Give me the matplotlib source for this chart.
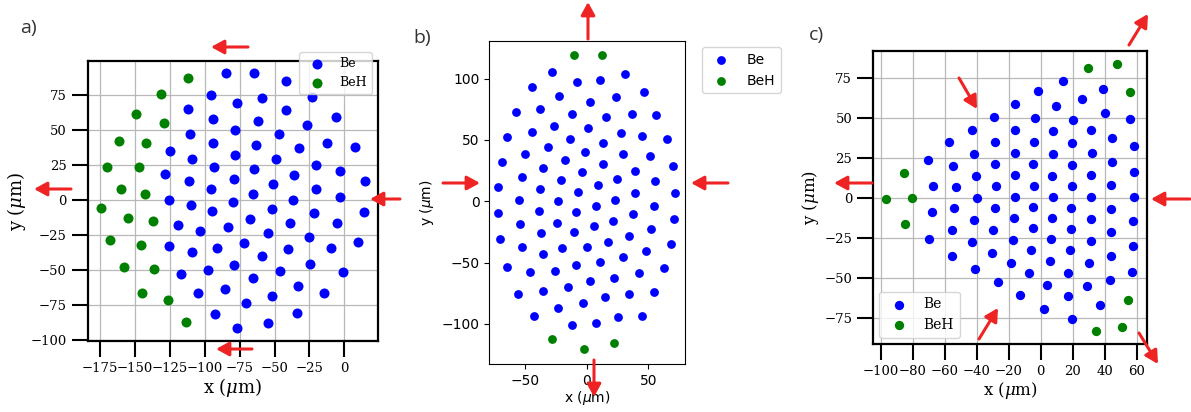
import matplotlib
matplotlib.use("Agg")
import matplotlib.pyplot as plt
from matplotlib.patches import FancyArrowPatch

# ---------------- data: panel a ----------------
a_beh_x = [-112.2, -131.5, -149.4, -129.4, -161.4, -142.0, -170.2, -147.3, -159.7, -142.5,
           -174.3, -154.7, -137.3, -167.6, -145.6, -158.0, -136.1, -145.1, -126.5, -113.2]
a_beh_y = [87.4, 75.7, 61.3, 55.4, 42.5, 40.6, 23.6, 23.6, 7.6, 4.3,
           -5.7, -12.7, -15.3, -28.4, -32.0, -48.0, -49.2, -66.4, -71.9, -87.1]
a_be_x = [-84.7, -64.5, -41.8, -22.9, -95.5, -58.7, -77.1, -111.7, -42.0, -5.7,
          -93.8, -62.1, -26.5, -78.1, -110.5, -46.6, -93.8, -12.2, 7.6, -63.0,
          -124.6, -32.7, -78.3, -108.9, -48.9, -93.6, -20.1, -64.5, -3.1, -128.4,
          -35.8, -79.3, -111.5, 14.8, -50.8, -95.7, -20.1, -65.2, -3.1, -125.3,
          -36.5, -80.0, -109.8, -52.0, 14.1, -94.5, -21.7, -67.6, -5.3, -38.9,
          -119.4, -83.6, -103.1, -54.7, -25.1, 10.0, -72.1, -125.8, -91.0, -40.6,
          -9.8, -109.1, -59.2, -78.8, -24.6, -97.6, -46.3, -1.2, -117.2, -65.4,
          -32.9, -85.2, -14.8, -105.0, -51.6, -70.7, -92.6, -33.7, -54.7, -76.6]
a_be_y = [90.7, 90.7, 85.0, 73.5, 75.2, 73.3, 69.5, 65.4, 64.5, 59.2,
          57.8, 56.3, 54.0, 50.4, 47.5, 47.3, 40.6, 41.1, 38.2, 39.2,
          35.3, 37.2, 32.5, 29.6, 29.1, 23.9, 25.3, 22.0, 21.0, 18.6,
          18.1, 14.8, 13.6, 13.8, 11.5, 8.1, 7.6, 4.3, 1.9, 0.2,
          0.2, -1.7, -3.3, -6.4, -8.6, -8.1, -9.5, -13.6, -16.5, -16.5,
          -17.7, -19.6, -22.0, -23.9, -26.7, -30.3, -30.6, -33.2, -34.4, -34.9,
          -34.6, -37.2, -40.1, -46.3, -45.6, -50.4, -50.6, -51.3, -53.0, -56.1,
          -61.4, -63.5, -66.4, -66.8, -68.5, -73.5, -81.6, -80.9, -87.8, -91.9]
a_xticks = [-175, -150, -125, -100, -75, -50, -25, 0]
a_yticks = [-100, -75, -50, -25, 0, 25, 50, 75]

# ---------------- data: panel b ----------------
b_beh_x = [-10.3, 12.7, -28.1, -2.4, 22.2]
b_beh_y = [119.6, 119.6, -112.5, -120.7, -115.8]
b_be_x = [-28.1, 31.4, -7.8, 10.5, -44.3, 46.8, -22.2, 23.5, 2.7, -37.6,
          -57.0, -11.9, 36.5, 56.5, 15.9, -26.2, 1.4, -44.3, 27.8, -64.9,
          44.9, -13.5, 64.9, 13.5, -31.1, -1.1, -49.7, 29.7, 51.1, -68.6,
          -17.8, 13.5, 69.7, -35.1, -3.8, 39.2, -52.7, -20.8, 24.3, 55.1,
          -71.6, 8.9, -37.6, -6.8, 39.5, 71.9, -54.9, -23.0, 23.2, 7.6,
          54.6, -38.9, -71.9, -8.4, 37.8, 70.8, 21.6, -24.1, -54.3, 5.7,
          52.4, -10.3, -37.3, 34.3, 17.3, -70.3, 68.1, -52.7, -19.7, 0.3,
          47.8, -35.7, 29.5, 11.1, -8.6, -64.9, 62.4, -25.7, -45.7, 42.4,
          22.4, 3.0, -14.9, -35.1, -55.4, 14.6, 34.1, 54.6, -3.2, -23.5,
          -42.7, 25.7, 44.6, -11.6, 7.3]
b_be_y = [105.7, 104.1, 97.6, 98.6, 92.9, 89.1, 85.9, 85.1, 81.0, 75.0,
          72.8, 71.5, 71.5, 70.1, 68.8, 61.7, 60.1, 56.5, 55.7, 52.4,
          53.0, 51.1, 50.5, 47.8, 44.3, 40.2, 38.3, 38.6, 36.7, 31.8,
          33.4, 30.7, 29.1, 26.9, 23.9, 24.7, 19.8, 17.1, 18.5, 16.3,
          11.4, 13.0, 9.8, 7.3, 6.8, 6.8, 1.1, 0.0, 1.1, -3.8,
          -3.5, -7.6, -9.2, -8.7, -10.6, -14.4, -15.8, -17.4, -18.2, -20.4,
          -22.3, -25.3, -26.1, -28.3, -33.2, -30.7, -35.1, -37.5, -37.8, -37.5,
          -40.5, -42.9, -45.4, -49.7, -51.9, -53.5, -54.6, -56.5, -57.6, -58.4,
          -62.2, -64.9, -69.8, -72.8, -75.3, -78.5, -75.8, -74.2, -82.9, -87.2,
          -93.2, -94.8, -94.0, -101.1, -99.5]
b_xticks = [-50, 0, 50]
b_yticks = [-100, -50, 0, 50, 100]

# ---------------- data: panel c ----------------
c_beh_x = [-96.9, -80.2, -85.2, -84.8, 29.4, 47.9, 55.6, 54.8, 51.0, 34.4]
c_beh_y = [-0.2, 0.2, 15.6, -15.8, 81.3, 83.8, 66.7, -63.5, -80.2, -83.1]
c_be_x = [14.2, -1.9, 39.0, 25.6, 9.6, -15.8, -29.4, -3.3, 20.4, 40.2,
          55.8, -42.9, -16.0, 7.9, 31.7, 44.6, -57.1, -28.8, -4.2, 19.4,
          58.5, -70.4, -41.9, -16.0, 7.5, 31.9, 44.6, -55.0, -28.5, -4.6,
          19.4, 58.1, -40.4, -16.0, 7.3, 31.7, -67.1, -52.9, -27.9, -4.4,
          19.4, 44.2, 58.3, -40.0, -16.0, 7.5, 31.7, -67.9, -54.2, -28.3,
          -4.6, 19.2, 44.2, -41.7, -16.7, 7.3, 31.5, 57.9, -55.4, -29.6,
          -5.0, 19.2, 44.0, -69.8, -17.5, 6.7, 31.25, 57.5, -42.7, -30.4,
          -6.0, 18.3, -55.6, 43.75, -18.75, 5.6, 30.4, -40.8, -7.3, 17.3,
          57.3, -26.7, 4.2, 29.2, 43.1, -12.7, 16.9, 36.9, 2.3, 19.6]
c_be_y = [73.3, 67.1, 68.1, 62.1, 57.5, 58.8, 50.8, 50.0, 49.2, 53.3,
          49.6, 42.9, 42.7, 42.1, 42.5, 37.7, 35.0, 35.2, 35.0, 34.4,
          32.9, 23.75, 27.9, 28.1, 27.7, 28.1, 22.7, 20.4, 21.25, 21.25,
          20.8, 16.7, 14.2, 14.4, 14.2, 14.4, 7.9, 6.9, 7.5, 7.7,
          7.5, 8.1, 1.0, 0.2, 0.8, 1.0, 0.8, -8.75, -6.25, -6.25,
          -5.6, -5.8, -6.5, -13.3, -12.3, -12.1, -12.7, -14.0, -20.0, -19.6,
          -18.75, -19.0, -20.8, -25.2, -25.8, -25.4, -26.5, -29.6, -27.5, -34.0,
          -32.1, -32.5, -35.8, -35.8, -40.2, -39.0, -40.6, -44.4, -46.7, -46.5,
          -45.8, -52.3, -54.0, -54.8, -51.25, -60.2, -61.25, -66.9, -69.0, -75.4]
c_xticks = [-100, -80, -60, -40, -20, 0, 20, 40, 60]
c_yticks = [-75, -50, -25, 0, 25, 50, 75]

W, H = 1191, 412
fig = plt.figure(figsize=(W / 100, H / 100), dpi=100)


def axes_px(l, t, r, b):
    return fig.add_axes([l / W, 1 - b / H, (r - l) / W, (b - t) / H])


SERIF = "DejaVu Serif"

# ---------- panel a ----------
axa = axes_px(87.7, 61, 378.3, 341)
axa.scatter(a_be_x, a_be_y, s=52, c="blue", linewidths=0, label="Be", zorder=3)
axa.scatter(a_beh_x, a_beh_y, s=52, c="green", linewidths=0, label="BeH", zorder=3)
axa.set_xlim(-183.8, 24.3)
axa.set_ylim(-101, 99.5)
axa.set_xticks(a_xticks)
axa.set_yticks(a_yticks)

# ---------- panel b ----------
axb = axes_px(489.3, 40.7, 685, 364.3)
axb.scatter(b_be_x, b_be_y, s=40, c="blue", linewidths=0, label="Be", zorder=3)
axb.scatter(b_beh_x, b_beh_y, s=40, c="green", linewidths=0, label="BeH", zorder=3)
axb.set_xlim(-79, 79.7)
axb.set_ylim(-133, 131)
axb.set_xticks(b_xticks)
axb.set_yticks(b_yticks)
axb.tick_params(labelsize=10)
axb.set_xlabel(r"x ($\mu$m)", fontsize=10, labelpad=1)
axb.set_ylabel(r"y ($\mu$m)", fontsize=10)
axb.legend(loc="upper left", bbox_to_anchor=(1.087, 0.98), borderaxespad=0, fontsize=10)

# ---------- panel c ----------
axc = axes_px(873, 51, 1147, 344.3)
axc.scatter(c_be_x, c_be_y, s=45, c="blue", linewidths=0, label="Be", zorder=3)
axc.scatter(c_beh_x, c_beh_y, s=45, c="green", linewidths=0, label="BeH", zorder=3)
axc.set_xlim(-104.8, 66.5)
axc.set_ylim(-91.25, 92.1)
axc.set_xticks(c_xticks)
axc.set_yticks(c_yticks)

for ax, lab_fs in ((axa, 13), (axc, 12)):
    ax.grid(True, color="#b8b8b8", lw=0.9, zorder=0)
    ax.set_axisbelow(True)
    for sp in ax.spines.values():
        sp.set_linewidth(1.6)
    ax.tick_params(direction="out", length=11.5, width=1.5, labelsize=9.5,
                   labelfontfamily=SERIF)
    ax.set_xlabel(r"x ($\mu$m)", fontsize=lab_fs, family=SERIF,
                  math_fontfamily="dejavuserif", labelpad=1)
    ax.set_ylabel(r"y ($\mu$m)", fontsize=lab_fs, family=SERIF,
                  math_fontfamily="dejavuserif", labelpad=2)

axa.legend(loc="upper right", bbox_to_anchor=(0.978, 1.032), borderaxespad=0,
           prop={"family": SERIF, "size": 9})
axc.legend(loc="lower left", bbox_to_anchor=(0.023, 0.0225), borderaxespad=0,
           prop={"family": SERIF, "size": 10})

# ---------- panel letters ----------
for txt, x, y in (("a)", 20, 28.5), ("b)", 413, 37.5), ("c)", 809, 35)):
    fig.text(x / W, 1 - y / H, txt, fontsize=14, family="Open Sans",
             color="#333333", ha="left", va="center")

# ---------- red arrows (figure pixel coords: tail -> head) ----------
arrows = [
    ((248, 47), (211, 47)), ((71, 189), (34, 189)), ((400, 199), (370, 199)),
    ((252, 349), (216, 349)),
    ((588, 39), (588, 2)), ((443, 183), (480, 183)), ((728, 183), (691, 183)),
    ((594, 360), (594, 397)),
    ((1129, 45), (1148, 14)), ((959, 78), (977, 109)), ((872, 183), (834, 183)),
    ((1190, 199), (1151, 199)), ((979, 339), (998, 308)), ((1139, 333), (1158, 364)),
]
for (x0, y0), (x1, y1) in arrows:
    fig.add_artist(FancyArrowPatch((x0 / W, 1 - y0 / H), (x1 / W, 1 - y1 / H),
                                   transform=fig.transFigure,
                                   arrowstyle="-|>,head_length=0.55,head_width=0.3",
                                   mutation_scale=14, color="#ee2424", lw=2.2,
                                   shrinkA=0, shrinkB=0))

fig.savefig("out.png", dpi=100)
